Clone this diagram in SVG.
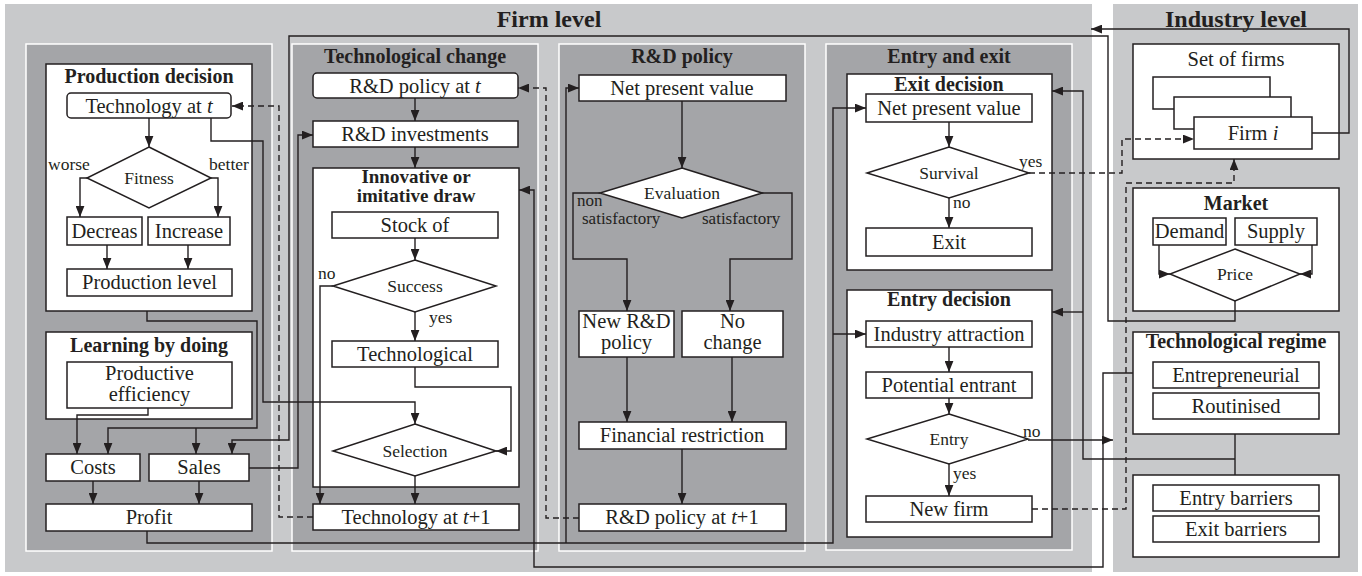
<svg xmlns="http://www.w3.org/2000/svg" width="1362" height="576" viewBox="0 0 1362 576">
<style>
text{font-family:"Liberation Serif","Times New Roman",serif;fill:#231f20}
.t{font-size:20.5px;text-anchor:middle}
.b{font-size:20px;font-weight:bold;text-anchor:middle}
.b2{font-size:19px;font-weight:bold;text-anchor:middle}
.h{font-size:24px;font-weight:bold;text-anchor:middle}
.s{font-size:17.5px}
.s2{font-size:17px}
.sc{font-size:17.5px;text-anchor:middle}
.bx{fill:#fff;stroke:#231f20;stroke-width:1.5}
.pn{fill:#a4a5a8;stroke:#fff;stroke-width:1.5}
.ln{fill:none;stroke:#231f20;stroke-width:1.4}
.dl{fill:none;stroke:#231f20;stroke-width:1.4;stroke-dasharray:6 4}
.ar{marker-end:url(#ah)}
</style>
<defs>
<marker id="ah" viewBox="0 0 10 8" refX="10" refY="4" markerWidth="11" markerHeight="9" orient="auto" markerUnits="userSpaceOnUse"><path d="M0,0 L10,4 L0,8 z" fill="#231f20"/></marker>
</defs>
<rect width="1362" height="576" fill="#fff"/>
<g id="firm-level">
<rect x="5" y="4" width="1087" height="568" fill="#c8c9cb"/>
<text class="h" x="549" y="27">Firm level</text>
</g>
<g id="industry-level">
<rect x="1113" y="4" width="245" height="568" fill="#c8c9cb"/>
<text class="h" x="1236" y="27">Industry level</text>
</g>
<g id="panels">
<rect class="pn" x="26" y="44" width="246" height="507"/>
<rect class="pn" x="292" y="44" width="246" height="507"/>
<rect class="pn" x="559" y="44" width="246" height="507"/>
<rect class="pn" x="826" y="44" width="246" height="506"/>
<text class="b" x="415" y="63">Technological change</text>
<text class="b" x="682" y="63">R&amp;D policy</text>
<text class="b" x="949" y="63">Entry and exit</text>
</g>
<g id="production-decision">
<rect class="bx" x="46" y="64" width="206" height="247"/>
<text class="b" x="149" y="83">Production decision</text>
</g>
<g id="tech-at-t">
<rect class="bx" x="67" y="93" width="164" height="25" rx="4"/>
<text class="t" x="149" y="113">Technology at <tspan font-style="italic">t</tspan></text>
</g>
<g id="fitness">
<polygon class="bx" points="149,147 211,178 149,208 87,178"/>
<text class="sc" x="149" y="184">Fitness</text>
</g>
<g id="decreas">
<rect class="bx" x="67" y="217" width="75" height="28"/>
<text class="t" x="104.5" y="238">Decreas</text>
</g>
<g id="increase">
<rect class="bx" x="148" y="217" width="82" height="28"/>
<text class="t" x="189" y="238">Increase</text>
</g>
<g id="production-level">
<rect class="bx" x="67" y="269" width="165" height="27"/>
<text class="t" x="149.5" y="289">Production level</text>
</g>
<g id="learning-by-doing">
<rect class="bx" x="46" y="332" width="206" height="87"/>
<text class="b" x="149" y="352">Learning by doing</text>
</g>
<g id="productive-efficiency">
<rect class="bx" x="67" y="362" width="165" height="46"/>
<text class="t" x="149.5" y="380">Productive</text>
<text class="t" x="149.5" y="401">efficiency</text>
</g>
<g id="costs">
<rect class="bx" x="46" y="454" width="94" height="27"/>
<text class="t" x="93" y="474">Costs</text>
</g>
<g id="sales">
<rect class="bx" x="149" y="454" width="100" height="27"/>
<text class="t" x="199" y="474">Sales</text>
</g>
<g id="profit">
<rect class="bx" x="46" y="504" width="206" height="27"/>
<text class="t" x="149" y="524">Profit</text>
</g>
<g id="rd-policy-t">
<rect class="bx" x="313" y="73" width="205" height="25" rx="4"/>
<text class="t" x="415" y="93">R&amp;D policy at <tspan font-style="italic">t</tspan></text>
</g>
<g id="rd-investments">
<rect class="bx" x="313" y="121" width="205" height="26"/>
<text class="t" x="415" y="141">R&amp;D investments</text>
</g>
<g id="innovative-draw">
<rect class="bx" x="313" y="168" width="206" height="319"/>
<text class="b2" x="416" y="183">Innovative or</text>
<text class="b2" x="416" y="202">imitative draw</text>
</g>
<g id="stock-of">
<rect class="bx" x="332" y="212" width="166" height="26"/>
<text class="t" x="415" y="232">Stock of</text>
</g>
<g id="success">
<polygon class="bx" points="415,260 496,286 415,312 333,286"/>
<text class="sc" x="415" y="292">Success</text>
</g>
<g id="technological">
<rect class="bx" x="332" y="341" width="166" height="26"/>
<text class="t" x="415" y="361">Technological</text>
</g>
<g id="selection">
<polygon class="bx" points="415,424 496,451 415,476 333,451"/>
<text class="sc" x="415" y="457">Selection</text>
</g>
<g id="tech-at-t1">
<rect class="bx" x="313" y="504" width="206" height="26"/>
<text class="t" x="416" y="524">Technology at <tspan font-style="italic">t</tspan>+1</text>
</g>
<g id="rd-npv">
<rect class="bx" x="579" y="75" width="207" height="26"/>
<text class="t" x="682" y="95">Net present value</text>
</g>
<g id="evaluation">
<polygon class="bx" points="682,168 762,193 682,218 600,193"/>
<text class="sc" x="682" y="199">Evaluation</text>
</g>
<g id="new-rd-policy">
<rect class="bx" x="579" y="311" width="95" height="46"/>
<text class="t" x="626.5" y="328">New R&amp;D</text>
<text class="t" x="626.5" y="349">policy</text>
</g>
<g id="no-change">
<rect class="bx" x="682" y="311" width="101" height="46"/>
<text class="t" x="732.5" y="328">No</text>
<text class="t" x="732.5" y="349">change</text>
</g>
<g id="financial-restriction">
<rect class="bx" x="579" y="422" width="207" height="27"/>
<text class="t" x="682" y="442">Financial restriction</text>
</g>
<g id="rd-policy-t1">
<rect class="bx" x="579" y="504" width="207" height="27"/>
<text class="t" x="682" y="524">R&amp;D policy at <tspan font-style="italic">t</tspan>+1</text>
</g>
<g id="exit-decision">
<rect class="bx" x="847" y="74" width="205" height="196"/>
<text class="b" x="949" y="91">Exit decision</text>
</g>
<g id="exit-npv">
<rect class="bx" x="866" y="94" width="166" height="28"/>
<text class="t" x="949" y="115">Net present value</text>
</g>
<g id="survival">
<polygon class="bx" points="949,147 1029,173 949,198 867,173"/>
<text class="sc" x="949" y="179">Survival</text>
</g>
<g id="exit">
<rect class="bx" x="866" y="228" width="166" height="28"/>
<text class="t" x="949" y="249">Exit</text>
</g>
<g id="entry-decision">
<rect class="bx" x="847" y="290" width="205" height="247"/>
<text class="b" x="949" y="306">Entry decision</text>
</g>
<g id="industry-attraction">
<rect class="bx" x="866" y="321" width="166" height="26"/>
<text class="t" x="949" y="341">Industry attraction</text>
</g>
<g id="potential-entrant">
<rect class="bx" x="866" y="372" width="166" height="26"/>
<text class="t" x="949" y="392">Potential entrant</text>
</g>
<g id="entry">
<polygon class="bx" points="949,414 1028,439 949,464 867,439"/>
<text class="sc" x="949" y="445">Entry</text>
</g>
<g id="new-firm">
<rect class="bx" x="866" y="496" width="166" height="26"/>
<text class="t" x="949" y="516">New firm</text>
</g>
<g id="set-of-firms">
<rect class="bx" x="1133" y="44" width="206" height="115"/>
<text class="t" x="1236" y="66">Set of firms</text>
<rect class="bx" x="1153" y="77" width="117" height="32"/>
<rect class="bx" x="1174" y="97" width="117" height="32"/>
</g>
<g id="firm-i">
<rect class="bx" x="1194" y="117" width="118" height="32"/>
<text class="t" x="1253" y="140">Firm <tspan font-style="italic">i</tspan></text>
</g>
<g id="market">
<rect class="bx" x="1133" y="188" width="206" height="123"/>
<text class="b" x="1236" y="210">Market</text>
</g>
<g id="demand">
<rect class="bx" x="1153" y="218" width="73" height="27"/>
<text class="t" x="1189.5" y="238">Demand</text>
</g>
<g id="supply">
<rect class="bx" x="1235" y="218" width="82" height="27"/>
<text class="t" x="1276" y="238">Supply</text>
</g>
<g id="price">
<polygon class="bx" points="1235,249 1300,274 1235,301 1170,274"/>
<text class="sc" x="1235" y="280">Price</text>
</g>
<g id="technological-regime">
<rect class="bx" x="1133" y="332" width="206" height="102"/>
<text class="b" x="1236" y="348">Technological regime</text>
<rect class="bx" x="1153" y="362" width="166" height="26"/>
<text class="t" x="1236" y="382">Entrepreneurial</text>
<rect class="bx" x="1153" y="393" width="166" height="26"/>
<text class="t" x="1236" y="413">Routinised</text>
</g>
<g id="barriers">
<rect class="bx" x="1133" y="475" width="206" height="82"/>
<rect class="bx" x="1153" y="485" width="166" height="26"/>
<text class="t" x="1236" y="505">Entry barriers</text>
<rect class="bx" x="1153" y="516" width="166" height="26"/>
<text class="t" x="1236" y="536">Exit barriers</text>
</g>
<g id="connectors">
<path class="ln ar" d="M149,118 V147"/>
<path class="ln ar" d="M87,178 H80 V217"/>
<path class="ln ar" d="M211,178 H218 V217"/>
<path class="ln ar" d="M107,245 V269"/>
<path class="ln ar" d="M188,245 V269"/>
<path class="ln ar" d="M211,118 V141 H263 V402 H415 V424"/>
<path class="ln ar" d="M147,311 V321 H257 V428 H108 V454"/>
<path class="ln ar" d="M196,428 V454"/>
<path class="ln ar" d="M148,408 V415 H77 V454"/>
<path class="ln ar" d="M1235,301 V321 H1108 V36 H289 V440 H232 V454"/>
<path class="ln ar" d="M249,468 H298 V135 H313"/>
<path class="ln ar" d="M93,481 V504"/>
<path class="ln ar" d="M199,481 V504"/>
<path class="ln ar" d="M147,531 V543 H833 V108 H866"/>
<path class="ln ar" d="M566,543 V88 H579"/>
<path class="ln ar" d="M833,334 H866"/>
<path class="ln ar" d="M415,98 V121"/>
<path class="ln ar" d="M415,147 V168"/>
<path class="ln ar" d="M415,238 V260"/>
<path class="ln ar" d="M333,286 H320 V504"/>
<path class="ln ar" d="M415,312 V341"/>
<path class="ln ar" d="M415,367 V387 H511 V451 H496"/>
<path class="ln ar" d="M415,476 V504"/>
<path class="ln ar" d="M1133,373 H1103 V567 H534 V190 H519"/>
<path class="ln ar" d="M682,101 V168"/>
<path class="ln ar" d="M600,193 H573 V259 H627 V311"/>
<path class="ln ar" d="M762,193 H792 V259 H730 V311"/>
<path class="ln ar" d="M627,357 V422"/>
<path class="ln ar" d="M732,357 V422"/>
<path class="ln ar" d="M682,449 V504"/>
<path class="ln ar" d="M949,122 V147"/>
<path class="ln ar" d="M949,198 V228"/>
<path class="ln ar" d="M949,347 V372"/>
<path class="ln ar" d="M949,398 V414"/>
<path class="ln ar" d="M949,464 V496"/>
<path class="ln ar" d="M1028,440 H1113"/>
<path class="ln" d="M1235,434 V475"/>
<path class="ln ar" d="M1235,459 H1083 V91 H1052"/>
<path class="ln ar" d="M1083,312 H1052"/>
<path class="ln ar" d="M1312,133 H1349 V29 H1091"/>
<path class="ln ar" d="M1159,245 V274 H1170"/>
<path class="ln ar" d="M1312,245 V274 H1300"/>
<path class="dl ar" d="M313,517 H279 V106 H232"/>
<path class="dl ar" d="M579,518 H546 V88 H518"/>
<path class="dl ar" d="M1029,173 H1122 V139 H1194"/>
<path class="dl ar" d="M1032,509 H1126 V183 H1234 V159"/>
</g>
<g id="labels">
<text class="s" x="48" y="170">worse</text>
<text class="s" x="209" y="170">better</text>
<text class="s" x="318" y="279">no</text>
<text class="s" x="429" y="323">yes</text>
<text class="s2" x="577" y="206">non</text>
<text class="s2" x="582" y="224">satisfactory</text>
<text class="s2" x="702" y="224">satisfactory</text>
<text class="s" x="1019" y="167">yes</text>
<text class="s" x="953" y="208">no</text>
<text class="s" x="1023" y="437">no</text>
<text class="s" x="953" y="479">yes</text>
</g>
</svg>
